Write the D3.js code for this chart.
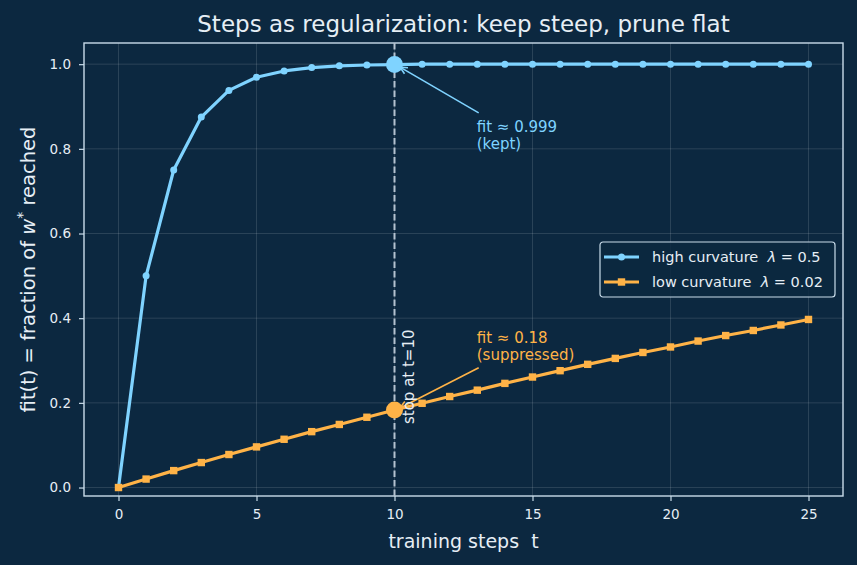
<!DOCTYPE html>
<html>
<head>
<meta charset="utf-8">
<script src="https://cdn.jsdelivr.net/npm/d3@7"></script>
<style>
  html, body { margin: 0; padding: 0; background: #0c2840; }
  svg { display: block; font-family: "DejaVu Sans", sans-serif; }
  text { white-space: pre; }
</style>
</head>
<body>
<svg id="chart" width="857" height="565"></svg>
<script>
// data
const steps = d3.range(0, 26);
const highCurv = [0, 0.5, 0.75, 0.875, 0.938, 0.969, 0.984, 0.992, 0.996, 0.998, 0.999,
  1.0, 1.0, 1.0, 1.0, 1.0, 1.0, 1.0, 1.0, 1.0, 1.0, 1.0, 1.0, 1.0, 1.0, 1.0];
const lowCurv = [0, 0.020, 0.040, 0.059, 0.078, 0.096, 0.114, 0.132, 0.149, 0.166, 0.183,
  0.199, 0.215, 0.230, 0.246, 0.261, 0.276, 0.291, 0.305, 0.319, 0.332, 0.346, 0.359, 0.371, 0.384, 0.397];
const xTicks = [0, 5, 10, 15, 20, 25];
const yTicks = [0, 0.2, 0.4, 0.6, 0.8, 1.0];
const stopStep = 10;

const BG = "#0c2840", FG = "#e6eef5", SPINE = "#c9dcea";
const BLUE = "#7fd3ff", ORANGE = "#ffb347";

const margin = { left: 84, right: 14, top: 43, bottom: 69 };
const W = 857, H = 565;
const svg = d3.select("#chart");

const x = d3.scaleLinear().domain([-1.25, 26.25]).range([margin.left, W - margin.right]);
const y = d3.scaleLinear().domain([-0.02, 1.05]).range([H - margin.bottom, margin.top]);

svg.append("rect").attr("width", W).attr("height", H).attr("fill", BG);

// grid
const grid = svg.append("g").attr("stroke", "#ffffff").attr("stroke-opacity", 0.16).attr("stroke-width", 0.8);
grid.selectAll(".gx").data(xTicks).join("line")
  .attr("x1", d => x(d)).attr("x2", d => x(d)).attr("y1", y.range()[0]).attr("y2", y.range()[1]);
grid.selectAll(".gy").data(yTicks).join("line")
  .attr("y1", d => y(d)).attr("y2", d => y(d)).attr("x1", x.range()[0]).attr("x2", x.range()[1]);

// axes
const xAxis = svg.append("g").attr("transform", `translate(0,${y.range()[0]})`)
  .call(d3.axisBottom(x).tickValues(xTicks).tickSize(5).tickPadding(8).tickFormat(d3.format("d")));
const yAxis = svg.append("g").attr("transform", `translate(${x.range()[0]},0)`)
  .call(d3.axisLeft(y).tickValues(yTicks).tickSize(5).tickPadding(8).tickFormat(d3.format(".1f")));
[xAxis, yAxis].forEach(a => {
  a.select(".domain").remove();
  a.selectAll(".tick line").attr("stroke", SPINE).attr("stroke-width", 1.2);
  a.selectAll(".tick text").attr("fill", FG).attr("font-size", 13.5).attr("font-family", "DejaVu Sans");
});

// frame
svg.append("rect")
  .attr("x", x.range()[0]).attr("y", y.range()[1])
  .attr("width", x.range()[1] - x.range()[0]).attr("height", y.range()[0] - y.range()[1])
  .attr("fill", "none").attr("stroke", SPINE).attr("stroke-width", 1.4);

// stop line
svg.append("line")
  .attr("x1", x(stopStep)).attr("x2", x(stopStep)).attr("y1", y.range()[0]).attr("y2", y.range()[1])
  .attr("stroke", "#b4c2d0").attr("stroke-width", 2).attr("stroke-dasharray", "6.5,3");

const line = d3.line().x((d, i) => x(steps[i])).y(d => y(d));

// high curvature
svg.append("path").datum(highCurv).attr("d", line)
  .attr("fill", "none").attr("stroke", BLUE).attr("stroke-width", 3.2).attr("stroke-linejoin", "round");
svg.append("g").selectAll("circle").data(highCurv).join("circle")
  .attr("cx", (d, i) => x(steps[i])).attr("cy", d => y(d)).attr("r", 3.5).attr("fill", BLUE);

// low curvature
svg.append("path").datum(lowCurv).attr("d", line)
  .attr("fill", "none").attr("stroke", ORANGE).attr("stroke-width", 3.2).attr("stroke-linejoin", "round");
svg.append("g").selectAll("rect").data(lowCurv).join("rect")
  .attr("x", (d, i) => x(steps[i]) - 3.7).attr("y", d => y(d) - 3.7)
  .attr("width", 7.4).attr("height", 7.4).attr("fill", ORANGE);

// stop markers
svg.append("circle").attr("cx", x(stopStep)).attr("cy", y(highCurv[stopStep])).attr("r", 8.5).attr("fill", BLUE);
svg.append("circle").attr("cx", x(stopStep)).attr("cy", y(lowCurv[stopStep])).attr("r", 8.5).attr("fill", ORANGE);

// annotations
function arrow(x1, y1, x2, y2, color) {
  svg.append("line").attr("x1", x1).attr("y1", y1).attr("x2", x2).attr("y2", y2)
    .attr("stroke", color).attr("stroke-width", 1.6);
  const a = Math.atan2(y2 - y1, x2 - x1), L = 8, s = 0.45;
  const p = [[x2 - L * Math.cos(a - s), y2 - L * Math.sin(a - s)], [x2, y2],
             [x2 - L * Math.cos(a + s), y2 - L * Math.sin(a + s)]];
  svg.append("path").attr("d", d3.line()(p)).attr("fill", "none")
    .attr("stroke", color).attr("stroke-width", 1.6);
}
function note(xv, yv, lines, color) {
  const t = svg.append("text").attr("x", x(xv)).attr("y", y(yv))
    .attr("fill", color).attr("font-size", 15);
  lines.forEach((s, i) => t.append("tspan").attr("x", x(xv)).attr("dy", i ? 17 : 0).text(s));
}
arrow(x(13.05), y(0.885), x(10.2), y(0.993), BLUE);
note(12.98, 0.84, ["fit ≈ 0.999", "(kept)"], BLUE);
arrow(x(13.05), y(0.283), x(10.2), y(0.188), ORANGE);
note(12.98, 0.342, ["fit ≈ 0.18", "(suppressed)"], ORANGE);

svg.append("text")
  .attr("transform", `translate(${x(10.3) + 11},${y(0.15)}) rotate(-90)`)
  .attr("fill", FG).attr("font-size", 15).text("stop at t=10");

// legend
const leg = svg.append("g").attr("transform", "translate(600,242)");
leg.append("rect").attr("width", 235).attr("height", 55).attr("rx", 3)
  .attr("fill", BG).attr("fill-opacity", 0.85).attr("stroke", SPINE).attr("stroke-width", 1.2);
const legItems = [
  { label: "high curvature", val: "0.5", color: BLUE, shape: "circle" },
  { label: "low curvature", val: "0.02", color: ORANGE, shape: "square" }
];
legItems.forEach((d, i) => {
  const g = leg.append("g").attr("transform", `translate(0,${15 + i * 25})`);
  g.append("line").attr("x1", 4).attr("x2", 39).attr("stroke", d.color).attr("stroke-width", 3.2);
  if (d.shape === "circle") g.append("circle").attr("cx", 21.5).attr("r", 3.5).attr("fill", d.color);
  else g.append("rect").attr("x", 17.8).attr("y", -3.7).attr("width", 7.4).attr("height", 7.4).attr("fill", d.color);
  const t = g.append("text").attr("x", 52).attr("dy", "0.35em").attr("fill", FG).attr("font-size", 14.5);
  t.append("tspan").text(d.label + "  ");
  t.append("tspan").attr("font-style", "italic").text("λ");
  t.append("tspan").text(" = " + d.val);
});

// title and labels
const cx = (x.range()[0] + x.range()[1]) / 2;
svg.append("text").attr("x", cx).attr("y", 32).attr("text-anchor", "middle")
  .attr("fill", FG).attr("font-size", 23).text("Steps as regularization: keep steep, prune flat");
svg.append("text").attr("x", cx).attr("y", 548).attr("text-anchor", "middle")
  .attr("fill", FG).attr("font-size", 19).text("training steps  t");
const yl = svg.append("text").attr("transform", `translate(35,${(y.range()[0] + y.range()[1]) / 2}) rotate(-90)`)
  .attr("text-anchor", "middle").attr("fill", FG).attr("font-size", 19.5);
yl.append("tspan").text("fit(t) = fraction of ");
yl.append("tspan").attr("font-style", "italic").text("w");
yl.append("tspan").attr("dy", -8).attr("font-size", 14).text("*");
yl.append("tspan").attr("dy", 8).text(" reached");
</script>
</body>
</html>
